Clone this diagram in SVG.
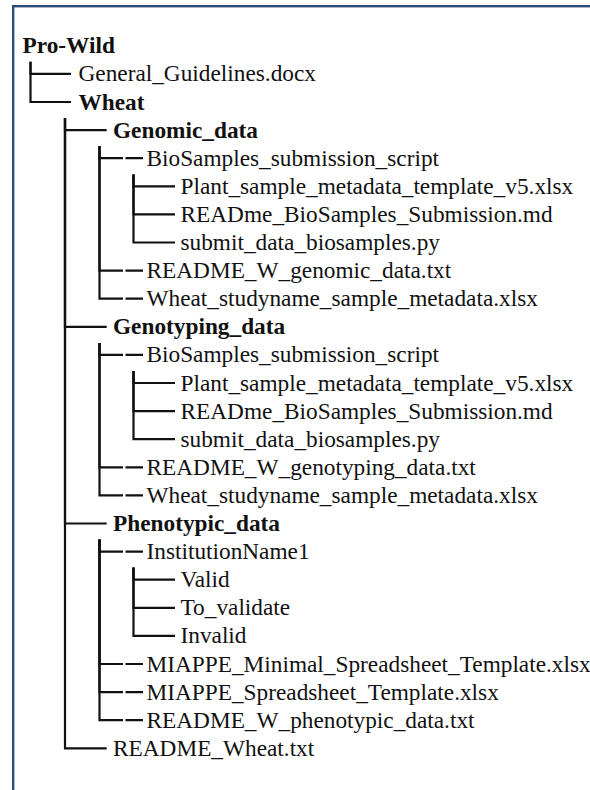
<svg xmlns="http://www.w3.org/2000/svg" width="590" height="790" viewBox="0 0 590 790">
<style>
  .t { font-family: "Liberation Serif", "Times New Roman", serif; font-size: 23.3px; fill: #111; }
  .b { font-weight: bold; }
  .c { fill: none; stroke: #111; stroke-width: 2.2; stroke-linejoin: miter; }
</style>
<rect x="0" y="0" width="590" height="790" fill="#fff"/>
<rect x="13.2" y="6.2" width="600" height="800" fill="#fff" stroke="#2e4b7c" stroke-width="2.4"/>
<g id="connectors" class="c">
  <path d="M30.5 61.7 V73.9 H71"/>
  <path d="M30.5 61.7 V102 H71"/>
  <path d="M65 118 V130.1 H106.7"/>
  <path d="M65 118 V326.8 H106.7"/>
  <path d="M65 118 V523.5 H106.7"/>
  <path d="M65 118 V748.3 H106.7"/>
  <path d="M99.5 146 V158.2 H123 M125.5 158.2 H143"/>
  <path d="M99.5 146 V270.6 H123 M125.5 270.6 H143"/>
  <path d="M99.5 146 V298.7 H123 M125.5 298.7 H143"/>
  <path d="M99.5 343 V354.9 H123 M125.5 354.9 H143"/>
  <path d="M99.5 343 V467.3 H123 M125.5 467.3 H143"/>
  <path d="M99.5 343 V495.4 H123 M125.5 495.4 H143"/>
  <path d="M99.5 539.5 V551.6 H123 M125.5 551.6 H143"/>
  <path d="M99.5 539.5 V664 H123 M125.5 664 H143"/>
  <path d="M99.5 539.5 V692.1 H123 M125.5 692.1 H143"/>
  <path d="M99.5 539.5 V720.2 H123 M125.5 720.2 H143"/>
  <path d="M133.5 174.5 V186.3 H175"/>
  <path d="M133.5 174.5 V214.4 H175"/>
  <path d="M133.5 174.5 V242.5 H175"/>
  <path d="M133.5 371 V383 H175"/>
  <path d="M133.5 371 V411.1 H175"/>
  <path d="M133.5 371 V439.2 H175"/>
  <path d="M133.5 567.6 V579.7 H175"/>
  <path d="M133.5 567.6 V607.8 H175"/>
  <path d="M133.5 567.6 V635.9 H175"/>
</g>
<g id="n-prowild"><text class="t b" x="22.5" y="53.3">Pro-Wild</text></g>
<g id="n-general"><text class="t" x="78.5" y="81.4">General_Guidelines.docx</text></g>
<g id="n-wheat"><text class="t b" x="78.5" y="109.5">Wheat</text></g>
<g id="n-genomic"><text class="t b" x="113" y="137.6">Genomic_data</text></g>
<g id="n-gen-bios"><text class="t" x="146.5" y="165.7">BioSamples_submission_script</text></g>
<g id="n-gen-plant"><text class="t" x="180.5" y="193.8">Plant_sample_metadata_template_v5.xlsx</text></g>
<g id="n-gen-readme-bios"><text class="t" x="180.5" y="221.9">READme_BioSamples_Submission.md</text></g>
<g id="n-gen-submit"><text class="t" x="180.5" y="250">submit_data_biosamples.py</text></g>
<g id="n-gen-readme"><text class="t" x="146.5" y="278.1">README_W_genomic_data.txt</text></g>
<g id="n-gen-study"><text class="t" x="146.5" y="306.2">Wheat_studyname_sample_metadata.xlsx</text></g>
<g id="n-genotyping"><text class="t b" x="113" y="334.3">Genotyping_data</text></g>
<g id="n-gty-bios"><text class="t" x="146.5" y="362.4">BioSamples_submission_script</text></g>
<g id="n-gty-plant"><text class="t" x="180.5" y="390.5">Plant_sample_metadata_template_v5.xlsx</text></g>
<g id="n-gty-readme-bios"><text class="t" x="180.5" y="418.6">READme_BioSamples_Submission.md</text></g>
<g id="n-gty-submit"><text class="t" x="180.5" y="446.7">submit_data_biosamples.py</text></g>
<g id="n-gty-readme"><text class="t" x="146.5" y="474.8">README_W_genotyping_data.txt</text></g>
<g id="n-gty-study"><text class="t" x="146.5" y="502.9">Wheat_studyname_sample_metadata.xlsx</text></g>
<g id="n-phenotypic"><text class="t b" x="113" y="531">Phenotypic_data</text></g>
<g id="n-institution"><text class="t" x="146.5" y="559.1">InstitutionName1</text></g>
<g id="n-valid"><text class="t" x="180.5" y="587.2">Valid</text></g>
<g id="n-tovalidate"><text class="t" x="180.5" y="615.3">To_validate</text></g>
<g id="n-invalid"><text class="t" x="180.5" y="643.4">Invalid</text></g>
<g id="n-miappe-min"><text class="t" x="146.5" y="671.5">MIAPPE_Minimal_Spreadsheet_Template.xlsx</text></g>
<g id="n-miappe"><text class="t" x="146.5" y="699.6">MIAPPE_Spreadsheet_Template.xlsx</text></g>
<g id="n-phe-readme"><text class="t" x="146.5" y="727.7">README_W_phenotypic_data.txt</text></g>
<g id="n-readme-wheat"><text class="t" x="113" y="755.8">README_Wheat.txt</text></g>
</svg>
